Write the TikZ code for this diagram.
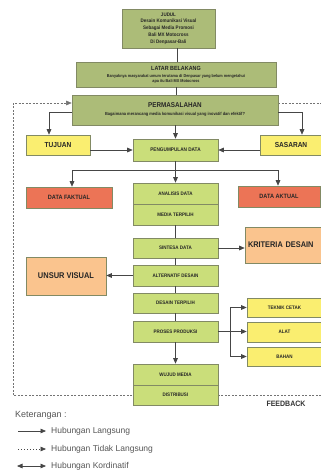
\documentclass[tikz,border=0pt]{standalone}
\usepackage{fontspec}
\setmainfont{Liberation Sans}
\newfontfamily\nb[FakeStretch=0.9]{Liberation Sans}
\usetikzlibrary{arrows.meta,backgrounds}
\definecolor{olivec}{RGB}{172,188,120}
\definecolor{greenc}{RGB}{202,222,122}
\definecolor{yellowc}{RGB}{250,238,112}
\definecolor{redc}{RGB}{236,116,86}
\definecolor{orangec}{RGB}{250,196,142}
\definecolor{bordc}{RGB}{130,138,100}
\definecolor{linec}{RGB}{70,70,70}
\definecolor{legc}{RGB}{85,85,85}
\newcommand{\fs}[1]{\fontsize{#1}{#1}\selectfont}
\tikzset{
  bx/.style={draw=bordc, line width=0.6pt, inner sep=1pt, align=center, text=black!85, font=\nb\bfseries},
  olivebox/.style={bx, fill=olivec},
  greenbox/.style={bx, fill=greenc},
  yellowbox/.style={bx, fill=yellowc},
  redbox/.style={bx, fill=redc},
  orangebox/.style={bx, fill=orangec},
  ln/.style={draw=linec, line width=0.7pt},
  arr/.style={ln, -{Triangle[length=5.5pt,width=4.6pt]}},
  dbl/.style={ln, {Triangle[length=5.5pt,width=4.6pt]}-{Triangle[length=5.5pt,width=4.6pt]}},
  fb/.style={draw=black!55, line width=0.5pt, dash pattern=on 2pt off 1.5pt},
  fbarr/.style={fb, -{Triangle[length=5.5pt,width=4.6pt]}},
  leg/.style={anchor=west, inner sep=0pt, text=legc, font=\fs{8.5}}
}
\begin{document}
\begin{tikzpicture}[x=1pt,y=-1pt]
\useasboundingbox (0,0) rectangle (321,475);
\clip (0,0) rectangle (321,475);
% main nodes
\node[olivebox, minimum width=93pt, minimum height=39pt, font=\nb\bfseries\fontsize{5}{6.8}\selectfont] (judul) at (168.5,28.5)
  {JUDUL\\Desain Komunikasi Visual\\Sebagai Media Promosi\\Bali MX Motocross\\Di Denpasar-Bali};
\node[olivebox, minimum width=200pt, minimum height=25pt, font=\nb\bfseries\fontsize{4.2}{4.9}\selectfont] (latar) at (176,74.5)
  {{\fs{6}LATAR BELAKANG}\\[2.2pt]Banyaknya masyarakat umum terutama di Denpasar yang belum mengetahui\\apa itu Bali MX Motocross};
\node[olivebox, minimum width=206pt, minimum height=30pt, font=\nb\bfseries\fontsize{4.4}{5}\selectfont] (perma) at (175,110)
  {{\fs{7}PERMASALAHAN}\\[3pt]Bagaimana merancang media komunikasi visual yang inovatif dan efektif?};
\node[yellowbox, minimum width=64pt, minimum height=20pt, font=\nb\bfseries\fs{7.3}] (tujuan) at (58,145) {TUJUAN};
\node[yellowbox, minimum width=62pt, minimum height=20pt, font=\nb\bfseries\fs{7.3}] (sasaran) at (291,145) {SASARAN};
\node[greenbox, minimum width=85pt, minimum height=22pt, font=\nb\bfseries\fs{5.2}] (kumpul) at (175.5,150) {PENGUMPULAN DATA};
\node[redbox, minimum width=86pt, minimum height=21pt, font=\nb\bfseries\fs{6.2}] (faktual) at (69,197.5) {DATA FAKTUAL};
\node[redbox, minimum width=82pt, minimum height=21pt, font=\nb\bfseries\fs{6.2}] (aktual) at (279,196.5) {DATA AKTUAL};
\node[greenbox, minimum width=85pt, minimum height=21pt, font=\nb\bfseries\fs{5}] (analisis) at (175.5,193.5) {ANALISIS DATA};
\node[greenbox, minimum width=85pt, minimum height=21pt, font=\nb\bfseries\fs{5}] (media) at (175.5,214.5) {MEDIA TERPILIH};
\node[greenbox, minimum width=85pt, minimum height=20pt, font=\nb\bfseries\fs{5}] (sintesa) at (175.5,248) {SINTESA DATA};
\node[greenbox, minimum width=85pt, minimum height=21pt, font=\nb\bfseries\fs{5}] (alter) at (175.5,275.5) {ALTERNATIF DESAIN};
\node[greenbox, minimum width=85pt, minimum height=20pt, font=\nb\bfseries\fs{5}] (dterpilih) at (175.5,303) {DESAIN TERPILIH};
\node[greenbox, minimum width=85pt, minimum height=21pt, font=\nb\bfseries\fs{5}] (proses) at (175.5,331.5) {PROSES PRODUKSI};
\node[orangebox, minimum width=90pt, minimum height=36pt, text width=84pt, align=left, font=\nb\bfseries\fs{8.2}] (kriteria) at (290,245) {KRITERIA DESAIN};
\node[orangebox, minimum width=80pt, minimum height=38pt, font=\nb\bfseries\fs{8.3}] (unsur) at (66,276) {UNSUR VISUAL};
\node[yellowbox, minimum width=75pt, minimum height=19pt, font=\nb\bfseries\fs{5}] (teknik) at (284.5,307.5) {TEKNIK CETAK};
\node[yellowbox, minimum width=75pt, minimum height=20pt, font=\nb\bfseries\fs{5}] (alat) at (284.5,332) {ALAT};
\node[yellowbox, minimum width=75pt, minimum height=19pt, font=\nb\bfseries\fs{5}] (bahan) at (284.5,356.5) {BAHAN};
\node[greenbox, minimum width=85pt, minimum height=21pt, font=\nb\bfseries\fs{5}] (wujud) at (175.5,374.5) {WUJUD MEDIA};
\node[greenbox, minimum width=85pt, minimum height=20pt, font=\nb\bfseries\fs{5}] (distribusi) at (175.5,395) {DISTRIBUSI};
\node[anchor=center, inner sep=0pt, text=black!80, font=\nb\bfseries\fs{7.8}] (feedback) at (286,404) {FEEDBACK};
% feedback loop
\coordinate (fbTL) at (13,103);
\coordinate (fbBL) at (13,395);
\coordinate (fbBR) at (321,395);
\coordinate (fbTR) at (321,103);
\begin{scope}[on background layer]
\draw[fbarr] (fbBR) -- (fbBL) -- (fbTL) -- (fbTL -| perma.west);
\draw[fb] (fbTL -| perma.east) -- (fbTR);
\end{scope}
% connectors
\draw[ln] (latar.north -| 177,0) -- (judul.south -| 177,0);
\draw[ln] (latar.south) -- (latar.south |- perma.north);
\draw[arr] ([yshift=-2pt]perma.west) -| ([xshift=-9pt]tujuan.north);
\draw[arr] ([yshift=-2pt]perma.east) -| ([xshift=11pt]sasaran.north);
\draw[arr] (perma.south -| kumpul.north) -- (kumpul.north);
\draw[arr] (tujuan.east |- kumpul.west) -- (kumpul.west);
\draw[arr] (sasaran.west |- kumpul.east) -- (kumpul.east);
\coordinate (split) at (175.5,170);
\draw[ln] (kumpul.south) -- (split);
\draw[arr] (split) -| ([xshift=3pt]faktual.north);
\draw[arr] (split) -| ([xshift=-1pt]aktual.north);
\draw[arr] (split) -- (analisis.north);
\draw[ln] (media.south) -- (sintesa.north);
\draw[arr] (sintesa.east) -- (sintesa.east -| kriteria.west);
\draw[ln] (sintesa.south) -- (alter.north);
\draw[arr] (alter.west) -- (alter.west -| unsur.east);
\draw[ln] (alter.south) -- (dterpilih.north);
\draw[ln] (dterpilih.south) -- (proses.north);
\draw[arr] (proses.south) -- (wujud.north);
\coordinate (br) at (230,331.5);
\draw[arr] (proses.east) -- (proses.east -| alat.west);
\draw[ln] (br |- teknik.west) -- (br |- bahan.west);
\draw[arr] (br |- teknik.west) -- (teknik.west);
\draw[arr] (br |- bahan.west) -- (bahan.west);
% legend
\node[leg, font=\fs{9}] (ket) at (15,415) {Keterangan :};
\coordinate (l1a) at (18,431); \coordinate (l1b) at (46,431);
\coordinate (l2a) at (18,449); \coordinate (l2b) at (46,449);
\coordinate (l3a) at (17,466); \coordinate (l3b) at (46,466);
\draw[arr] (l1a) -- (l1b);
\draw[ln, dash pattern=on 1pt off 2pt, -{Triangle[length=5.5pt,width=4.6pt]}] (l2a) -- (l2b);
\draw[dbl] (l3a) -- (l3b);
\node[leg] (t1) at (51,431) {Hubungan Langsung};
\node[leg] (t2) at (51,449) {Hubungan Tidak Langsung};
\node[leg] (t3) at (51,466) {Hubungan Kordinatif};
\end{tikzpicture}
\end{document}
